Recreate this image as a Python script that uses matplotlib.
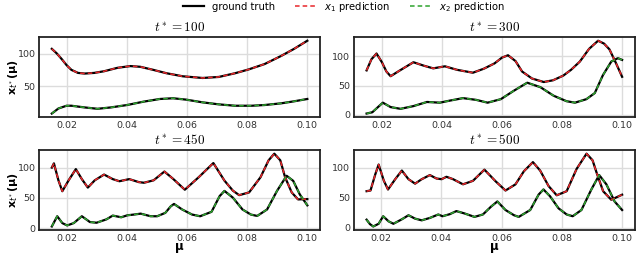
import matplotlib
matplotlib.use('Agg')
import matplotlib.pyplot as plt
from matplotlib.font_manager import FontProperties

# t* = 100
mu_100_x1 = [0.0151, 0.0167, 0.0184, 0.0200, 0.0216, 0.0238, 0.0260, 0.0292, 0.0325, 0.0369, 0.0412, 0.0445,
             0.0488, 0.0532, 0.0586, 0.0652, 0.0706, 0.0760, 0.0804, 0.0858, 0.0913, 0.0956, 0.1000]
x1_100 = [107.8, 101, 92, 82.8, 75.5, 70.8, 69.8, 70.8, 73.4, 78.6, 81.3, 80.2,
          75.5, 70.3, 65.6, 63, 64.6, 70.3, 76, 84.4, 96.9, 107.8, 120.3]
mu_100_x2 = [0.0151, 0.0173, 0.0200, 0.0216, 0.0260, 0.0303, 0.0347, 0.0401, 0.0456, 0.0510, 0.0554, 0.0597,
             0.0652, 0.0706, 0.0760, 0.0815, 0.0858, 0.0913, 0.0956, 0.1000]
x2_100 = [8.3, 16.1, 20.3, 20.3, 17.7, 15.6, 17.7, 21.4, 26.6, 30.7, 31.8, 29.7,
          25.5, 22.4, 20.3, 20.3, 21.4, 24, 27.1, 30.7]

# t* = 300
mu_300_x1 = [0.0149, 0.0165, 0.0182, 0.0200, 0.0215, 0.0229, 0.0260, 0.0305, 0.0340, 0.0371, 0.0410, 0.0450,
             0.0503, 0.0540, 0.0575, 0.0600, 0.0620, 0.0645, 0.0667, 0.0700, 0.0739, 0.0770, 0.0804, 0.0830,
             0.0859, 0.0890, 0.0920, 0.0940, 0.0958, 0.0980, 0.1000]
x1_300 = [76, 95, 105, 90, 74, 66, 76, 90, 84, 79.5, 83, 77,
          72, 79, 88, 98, 102, 92, 74, 62, 56, 59, 67, 77,
          91, 113, 127, 122, 112, 88, 65]
mu_300_x2 = [0.0149, 0.0168, 0.0185, 0.0203, 0.0229, 0.0262, 0.0305, 0.0350, 0.0393, 0.0426, 0.0470, 0.0514,
             0.0552, 0.0596, 0.0640, 0.0684, 0.0728, 0.0772, 0.0815, 0.0843, 0.0881, 0.0909, 0.0936, 0.0964,
             0.0986, 0.1000]
x2_300 = [1.8, 4, 12, 20.5, 12.9, 9.9, 14.6, 21.7, 20.5, 24, 28.3, 25.3,
          20.5, 26.5, 41.2, 54.8, 47.1, 32.4, 23, 20.5, 26.5, 37, 67.7, 91.2,
          97, 94]

# t* = 450
mu_450_x1 = [0.0149, 0.0156, 0.0171, 0.0184, 0.0205, 0.0229, 0.0249, 0.0269, 0.0292, 0.0323, 0.0352, 0.0374,
             0.0407, 0.0439, 0.0456, 0.0488, 0.0524, 0.0554, 0.0592, 0.0638, 0.0687, 0.0724, 0.0752, 0.0773,
             0.0806, 0.0844, 0.0871, 0.0890, 0.0910, 0.0926, 0.0948, 0.0969, 0.1000]
x1_450 = [100, 107, 79, 61, 79, 97.5, 81, 67, 79, 88.5, 81, 77.5,
          81, 76, 75, 79, 93.5, 81, 63.5, 84, 107.5, 78.5, 62, 54.5,
          59, 84, 112, 123, 112, 84, 59, 47.5, 48]
mu_450_x2 = [0.0149, 0.0167, 0.0184, 0.0200, 0.0222, 0.0249, 0.0276, 0.0298, 0.0331, 0.0352, 0.0380, 0.0401,
             0.0423, 0.0445, 0.0478, 0.0500, 0.0527, 0.0545, 0.0556, 0.0583, 0.0616, 0.0643, 0.0681, 0.0708,
             0.0724, 0.0752, 0.0784, 0.0812, 0.0833, 0.0866, 0.0899, 0.0931, 0.0953, 0.0975, 0.1000]
x2_450 = [2.8, 19.7, 8.4, 4.5, 8.4, 19.7, 10.1, 9, 14.6, 20.8, 18, 21.3,
          22.5, 24, 19.7, 19.7, 25.3, 36, 40, 30.9, 22.5, 19.7, 27, 53,
          61.5, 50.4, 30.9, 22.5, 20.2, 30.9, 61.5, 86.5, 78.1, 55.7, 37.7]

# t* = 500
mu_500_x1 = [0.0152, 0.0165, 0.0181, 0.0192, 0.0209, 0.0223, 0.0247, 0.0269, 0.0291, 0.0313, 0.0335, 0.0362,
             0.0384, 0.0401, 0.0417, 0.0439, 0.0472, 0.0505, 0.0543, 0.0580, 0.0613, 0.0646, 0.0674, 0.0704,
             0.0728, 0.0756, 0.0783, 0.0816, 0.0849, 0.0882, 0.0902, 0.0915, 0.0937, 0.0964, 0.1000]
x1_500 = [60.8, 62, 89, 105, 78.4, 63.6, 80.7, 95, 80.7, 73.3, 80.7, 87.5,
          81.8, 80.7, 84.7, 80.7, 72.2, 78, 96.5, 77.3, 61.9, 72.1, 93.8, 109,
          95, 69.3, 54, 60.8, 97.7, 123, 112, 92, 60.8, 46.6, 55]
mu_500_x2 = [0.0152, 0.0163, 0.0174, 0.0192, 0.0207, 0.0225, 0.0241, 0.0269, 0.0291, 0.0313, 0.0335, 0.0362,
             0.0390, 0.0404, 0.0428, 0.0450, 0.0477, 0.0510, 0.0538, 0.0565, 0.0586, 0.0613, 0.0641, 0.0657,
             0.0695, 0.0723, 0.0739, 0.0761, 0.0789, 0.0816, 0.0836, 0.0865, 0.0898, 0.0924, 0.0948, 0.0975,
             0.1000]
x2_500 = [13.6, 6.3, 2.3, 6.8, 19.3, 10.8, 6.8, 14.2, 20.9, 15.3, 12.5, 16.5,
          22.2, 19.3, 22.7, 27.8, 23.9, 18.2, 22.2, 35.2, 43.8, 29.6, 21, 18.2,
          29.6, 55.2, 63.7, 52.3, 32.4, 22.2, 19.3, 29.6, 63.7, 87.5, 72, 43.8,
          29.6]

panels = [
    (100, mu_100_x1, x1_100, mu_100_x2, x2_100),
    (300, mu_300_x1, x1_300, mu_300_x2, x2_300),
    (450, mu_450_x1, x1_450, mu_450_x2, x2_450),
    (500, mu_500_x1, x1_500, mu_500_x2, x2_500),
]

red = '#e8262a'
green = '#2ea32e'

fig, axes = plt.subplots(2, 2, figsize=(6.4, 2.54), dpi=100)
fig.subplots_adjust(left=0.061, right=0.992, top=0.854, bottom=0.094, wspace=0.12, hspace=0.41)

for ax, (t, m1, v1, m2, v2) in zip(axes.flat, panels):
    ax.set_facecolor('white')
    ax.grid(True, color='#dcdcdc', linewidth=1.0)
    ax.set_axisbelow(True)
    for s in ax.spines.values():
        s.set_color('#222222')
        s.set_linewidth(1.3)
    ax.tick_params(length=0, labelsize=6.8, colors='#333333', pad=2.5)

    ax.plot(m1, v1, color='black', lw=1.6, label='ground truth')
    ax.plot(m2, v2, color='black', lw=1.6)
    ax.plot(m1, v1, color=red, lw=1.1, ls=(0, (3, 2)), label='$x_1$ prediction')
    ax.plot(m2, v2, color=green, lw=1.1, ls=(0, (3, 2)), label='$x_2$ prediction')

    ax.set_xticks([0.02, 0.04, 0.06, 0.08, 0.10])
    ax.set_xticklabels(['0.02', '0.04', '0.06', '0.08', '0.10'])
    ax.set_title(f'$t^* = {t}$', fontsize=9.5, math_fontfamily='cm', pad=4)

for ax in axes[:, 0]:
    ax.set_ylabel(r'$\mathbf{x}_{t^*}\mathbf{(\mu)}$', fontsize=8)
    ax.yaxis.set_label_coords(-0.068, 0.5)
for ax in axes[1, :]:
    ax.set_xlabel(r'$\mathbf{\mu}$', fontsize=8.5)
    ax.xaxis.set_label_coords(0.5, -0.14)

handles, labels = axes[0, 0].get_legend_handles_labels()
fig.legend(handles, labels, loc='center', bbox_to_anchor=(0.5375, 0.974), ncol=3, frameon=False,
           prop=FontProperties(size=7.2), handlelength=2.1, columnspacing=2.0, handletextpad=0.8)

plt.savefig('out.png', dpi=100)
